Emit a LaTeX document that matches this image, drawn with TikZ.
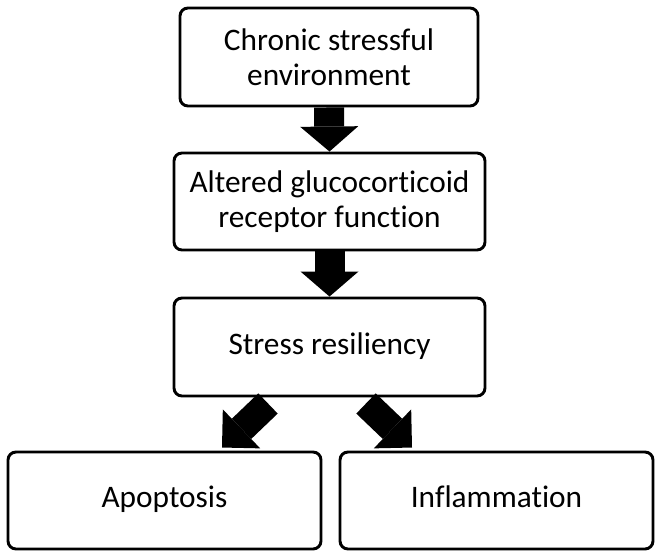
\documentclass[tikz,border=0pt]{standalone}
\usepackage{fontspec}
\setmainfont{Carlito}[Ligatures=NoCommon]
\usetikzlibrary{calc, arrows.meta}

\begin{document}
\begin{tikzpicture}[x=0.75pt, y=-0.75pt,
    box/.style={draw, line width=2.2pt, rounded corners=6pt, align=center,
        inner sep=0pt, font=\fontsize{23.5}{26.25}\selectfont},
    onebox/.style={box, text height=16pt, text depth=5.5pt},
    downarrow/.style={line width=22.5pt,
        -{Triangle[width=43.5pt, length=18.75pt, line width=0pt]}},
    sidearrow/.style={line width=21pt,
        -{Triangle[width=40.5pt, length=20.25pt, line width=0pt]}}]
    \useasboundingbox (0,0) rectangle (661,557);

    \node[box, minimum width=223.5pt, minimum height=73.5pt] (chronic) at (329,57)
        {Chronic stressful\\environment};
    \node[box, minimum width=233.25pt, minimum height=72.75pt] (altered) at (329.5,201.5)
        {Altered glucocorticoid\\receptor function};
    \node[onebox, minimum width=233.25pt, minimum height=73.5pt] (resil) at (329.5,347)
        {Stress resiliency};
    \node[onebox, minimum width=234.75pt, minimum height=72.75pt] (apop) at (164.5,500.5)
        {Apoptosis};
    \node[onebox, minimum width=234.75pt, minimum height=72.75pt] (inflam) at (496.5,500.5)
        {Inflammation};

    \coordinate (apopstart) at ($(resil.south)+(-61.5,6)$);
    \coordinate (apoptip) at ($(apop.north)+(57.5,-3)$);
    \coordinate (inflamstart) at ($(resil.south)+(36.5,6)$);
    \coordinate (inflamtip) at ($(inflam.north)+(-84.5,-3)$);

    \draw[downarrow] (chronic.south) -- (altered.north);
    \draw[downarrow] (altered.south) -- (resil.north);
    \draw[sidearrow] (apopstart) -- (apoptip);
    \draw[sidearrow] (inflamstart) -- (inflamtip);
\end{tikzpicture}
\end{document}
